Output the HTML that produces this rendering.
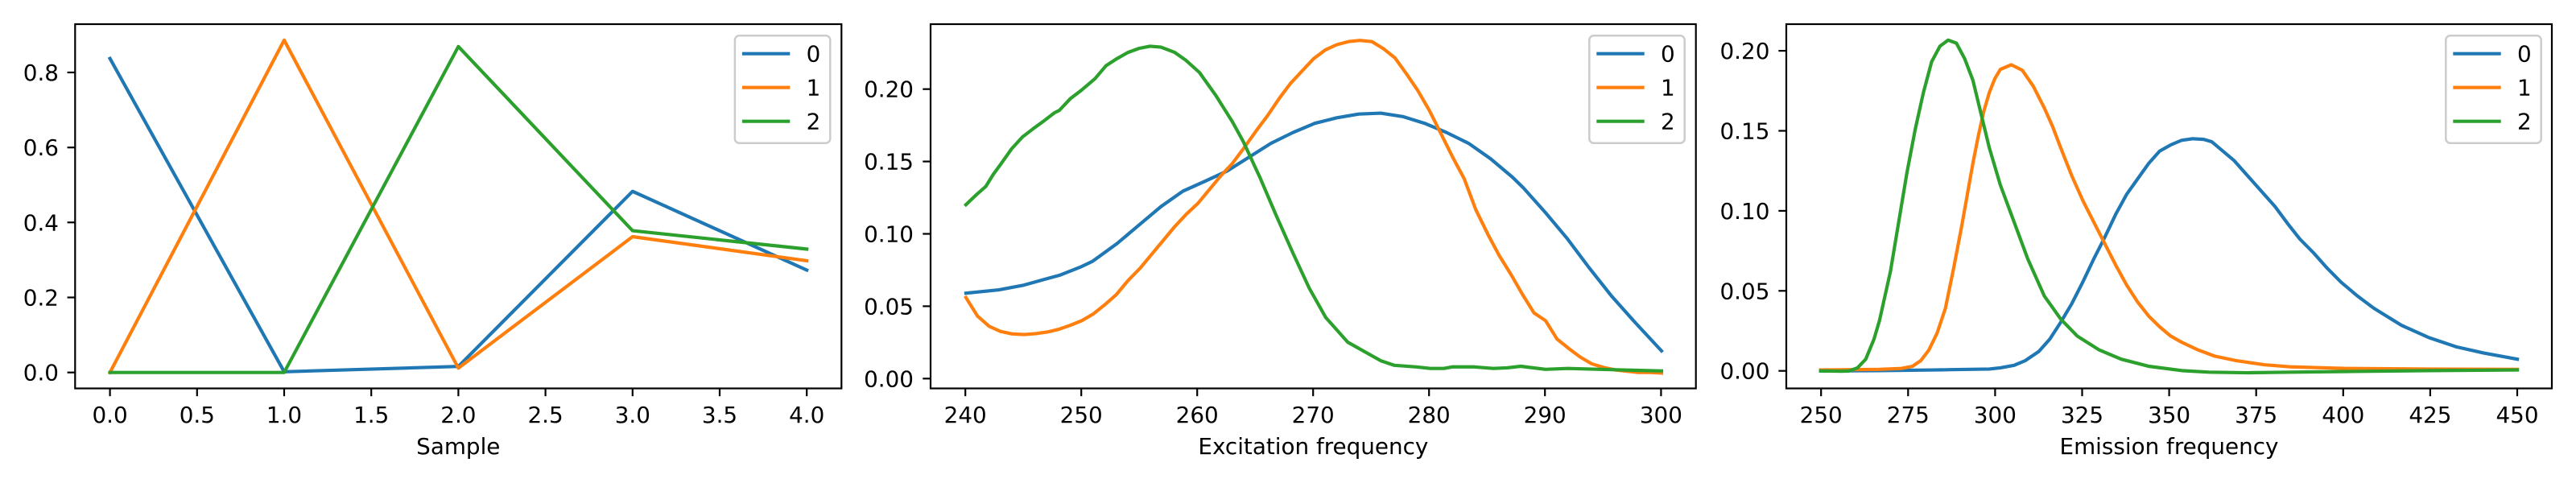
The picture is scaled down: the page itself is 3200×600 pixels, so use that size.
<!DOCTYPE html>
<html>
<head>
<meta charset="utf-8">
<style>
html,body{margin:0;padding:0;background:#fff;}
svg{display:block;}
text{font-family:"DejaVu Sans","Liberation Sans",sans-serif;font-size:27.8px;fill:#000;}
.ln{fill:none;stroke-width:4.17;stroke-linejoin:round;stroke-linecap:square;}
.nss{vector-effect:non-scaling-stroke;}
.b{stroke:#1f77b4;}
.o{stroke:#ff7f0e;}
.g{stroke:#2ca02c;}
.sp{fill:none;stroke:#000;stroke-width:2.2;stroke-linejoin:miter;}
.tk{stroke:#000;stroke-width:2.2;}
.lg{fill:#fff;fill-opacity:0.8;stroke:#cccccc;stroke-width:2.5;}
</style>
</head>
<body>
<svg width="3200" height="600" viewBox="0 0 3200 600" xmlns="http://www.w3.org/2000/svg">
<rect x="0" y="0" width="3200" height="600" fill="#fff"/>

<!-- ================= PANEL 1 ================= -->
<g>
  <polyline class="ln b" points="136.6,72.7 353,461.8 569.4,455.2 785.8,237.7 1002.2,335.5"/>
  <polyline class="ln o" points="136.6,462.7 353,49.9 569.4,457.3 785.8,294.0 1002.2,323.9"/>
  <polyline class="ln g" points="136.6,462.7 353,462.7 569.4,57.8 785.8,286.6 1002.2,309.4"/>
  <rect class="sp" x="93.3" y="30" width="952" height="452.5"/>
  <!-- y ticks -->
  <g class="tk">
    <line x1="83.6" y1="462.7" x2="93.3" y2="462.7"/>
    <line x1="83.6" y1="369.5" x2="93.3" y2="369.5"/>
    <line x1="83.6" y1="276.3" x2="93.3" y2="276.3"/>
    <line x1="83.6" y1="183.2" x2="93.3" y2="183.2"/>
    <line x1="83.6" y1="90" x2="93.3" y2="90"/>
  </g>
  <g text-anchor="end">
    <text x="73" y="472.7">0.0</text>
    <text x="73" y="379.5">0.2</text>
    <text x="73" y="286.3">0.4</text>
    <text x="73" y="193.2">0.6</text>
    <text x="73" y="100">0.8</text>
  </g>
  <!-- x ticks -->
  <g class="tk">
    <line x1="136.6" y1="482.5" x2="136.6" y2="492.2"/>
    <line x1="244.8" y1="482.5" x2="244.8" y2="492.2"/>
    <line x1="353" y1="482.5" x2="353" y2="492.2"/>
    <line x1="461.2" y1="482.5" x2="461.2" y2="492.2"/>
    <line x1="569.4" y1="482.5" x2="569.4" y2="492.2"/>
    <line x1="677.6" y1="482.5" x2="677.6" y2="492.2"/>
    <line x1="785.8" y1="482.5" x2="785.8" y2="492.2"/>
    <line x1="894" y1="482.5" x2="894" y2="492.2"/>
    <line x1="1002.2" y1="482.5" x2="1002.2" y2="492.2"/>
  </g>
  <g text-anchor="middle">
    <text x="136.6" y="525">0.0</text>
    <text x="244.8" y="525">0.5</text>
    <text x="353" y="525">1.0</text>
    <text x="461.2" y="525">1.5</text>
    <text x="569.4" y="525">2.0</text>
    <text x="677.6" y="525">2.5</text>
    <text x="785.8" y="525">3.0</text>
    <text x="894" y="525">3.5</text>
    <text x="1002.2" y="525">4.0</text>
    <text x="569.3" y="564">Sample</text>
  </g>
  <!-- legend -->
  <rect class="lg" x="912.9" y="44.3" width="118.4" height="133.4" rx="5.5" ry="5.5"/>
  <line class="ln b" style="stroke-linecap:butt" x1="921.9" y1="66.7" x2="981.3" y2="66.7"/>
  <line class="ln o" style="stroke-linecap:butt" x1="921.9" y1="108.7" x2="981.3" y2="108.7"/>
  <line class="ln g" style="stroke-linecap:butt" x1="921.9" y1="150.7" x2="981.3" y2="150.7"/>
  <text x="1001.6" y="76.7">0</text>
  <text x="1001.6" y="118.7">1</text>
  <text x="1001.6" y="160.7">2</text>
</g>

<!-- ================= PANEL 2 ================= -->
<g>
  <g transform="translate(1060,0) scale(0.6825,0.383)">
    <polyline class="ln nss b" points="205,951 265,940 310,925 350,905 375,893 415,865 435,848 480,790 520,730 560,670 600,620 640,588 680,555 720,510 760,465 800,430 840,400 880,382 920,370 960,367 1000,378 1040,400 1080,430 1120,465 1160,515 1200,575 1220,610 1260,690 1300,775 1340,870 1380,960 1420,1040 1471,1138"/>
    <polyline class="ln nss o" points="205,965 226,1025 247,1058 268,1075 289,1083 311,1085 332,1082 353,1077 374,1068 395,1055 416,1040 437,1018 458,988 479,955 500,910 522,870 543,825 564,780 585,735 606,695 627,660 648,615 669,570 690,530 711,480 733,425 754,375 775,320 796,270 817,230 838,190 859,162 880,145 901,135 922,131 944,135 965,158 986,188 1007,240 1028,295 1049,360 1070,435 1091,510 1112,580 1133,680 1155,760 1176,830 1197,890 1218,955 1239,1015 1260,1040 1281,1100 1302,1130 1323,1158 1344,1180 1366,1192 1387,1200 1408,1204 1429,1208 1450,1208 1471,1210"/>
    <polyline class="ln nss g" points="205,664 225,630 241,605 255,565 269,531 288,483 308,444 327,418 347,392 366,366 375,358 395,320 415,293 440,255 460,213 480,190 500,170 520,157 540,150 560,153 585,170 605,195 630,235 660,310 690,395 710,460 740,575 770,700 800,820 830,935 860,1030 900,1110 940,1150 960,1170 985,1185 1025,1190 1050,1195 1075,1195 1090,1190 1130,1190 1165,1195 1190,1193 1215,1188 1260,1198 1300,1195 1400,1200 1471,1203"/>
  </g>
  <rect class="sp" x="1156" y="30" width="950.7" height="452.5"/>
  <g class="tk">
    <line x1="1146.3" y1="470.3" x2="1156" y2="470.3"/>
    <line x1="1146.3" y1="380.4" x2="1156" y2="380.4"/>
    <line x1="1146.3" y1="290.5" x2="1156" y2="290.5"/>
    <line x1="1146.3" y1="200.6" x2="1156" y2="200.6"/>
    <line x1="1146.3" y1="110.7" x2="1156" y2="110.7"/>
  </g>
  <g text-anchor="end">
    <text x="1135" y="480.3">0.00</text>
    <text x="1135" y="390.4">0.05</text>
    <text x="1135" y="300.5">0.10</text>
    <text x="1135" y="210.6">0.15</text>
    <text x="1135" y="120.7">0.20</text>
  </g>
  <g class="tk">
    <line x1="1199.2" y1="482.5" x2="1199.2" y2="492.2"/>
    <line x1="1343.2" y1="482.5" x2="1343.2" y2="492.2"/>
    <line x1="1487.2" y1="482.5" x2="1487.2" y2="492.2"/>
    <line x1="1631.2" y1="482.5" x2="1631.2" y2="492.2"/>
    <line x1="1775.2" y1="482.5" x2="1775.2" y2="492.2"/>
    <line x1="1919.2" y1="482.5" x2="1919.2" y2="492.2"/>
    <line x1="2063.4" y1="482.5" x2="2063.4" y2="492.2"/>
  </g>
  <g text-anchor="middle">
    <text x="1199.2" y="525">240</text>
    <text x="1343.2" y="525">250</text>
    <text x="1487.2" y="525">260</text>
    <text x="1631.2" y="525">270</text>
    <text x="1775.2" y="525">280</text>
    <text x="1919.2" y="525">290</text>
    <text x="2063.4" y="525">300</text>
    <text x="1631.4" y="564">Excitation frequency</text>
  </g>
  <rect class="lg" x="1974.3" y="44.3" width="118.4" height="133.4" rx="5.5" ry="5.5"/>
  <line class="ln b" style="stroke-linecap:butt" x1="1983.3" y1="66.7" x2="2042.7" y2="66.7"/>
  <line class="ln o" style="stroke-linecap:butt" x1="1983.3" y1="108.7" x2="2042.7" y2="108.7"/>
  <line class="ln g" style="stroke-linecap:butt" x1="1983.3" y1="150.7" x2="2042.7" y2="150.7"/>
  <text x="2063" y="76.7">0</text>
  <text x="2063" y="118.7">1</text>
  <text x="2063" y="160.7">2</text>
</g>

<!-- ================= PANEL 3 ================= -->
<g>
  <g transform="translate(2130,0) scale(0.6825,0.383)">
    <polyline class="ln nss b" points="193,1203 300,1202 400,1200 430,1199 500,1197 520,1193 545,1185 565,1170 590,1140 610,1100 630,1045 650,985 670,915 690,840 710,770 730,695 750,630 770,580 790,530 810,490 830,470 850,455 870,450 890,452 905,460 925,490 945,520 970,570 990,610 1020,670 1045,730 1065,775 1090,820 1115,870 1140,915 1170,960 1200,1000 1250,1055 1300,1095 1350,1125 1400,1145 1461,1165"/>
    <polyline class="ln nss o" points="193,1200 250,1199 300,1198 340,1195 360,1188 375,1170 390,1135 405,1080 420,1000 435,870 450,730 460,630 470,530 480,440 490,360 500,300 510,255 520,225 540,210 560,228 580,280 600,350 615,410 630,480 650,570 670,650 690,720 710,790 730,860 750,925 770,980 790,1025 810,1060 830,1090 850,1110 880,1135 910,1155 950,1170 1000,1183 1050,1190 1150,1195 1300,1197 1461,1198"/>
    <polyline class="ln nss g" points="193,1203 230,1204 245,1203 260,1193 275,1165 290,1100 300,1040 310,960 320,880 335,720 350,560 365,420 380,300 395,200 410,150 425,130 440,140 455,190 470,260 485,370 500,480 520,600 545,720 570,840 600,960 630,1035 660,1090 700,1135 740,1165 790,1188 850,1202 900,1207 970,1209 1050,1207 1150,1205 1300,1202 1461,1200"/>
  </g>
  <rect class="sp" x="2219" y="30" width="951" height="452.5"/>
  <g class="tk">
    <line x1="2209.3" y1="460.7" x2="2219" y2="460.7"/>
    <line x1="2209.3" y1="361.3" x2="2219" y2="361.3"/>
    <line x1="2209.3" y1="261.9" x2="2219" y2="261.9"/>
    <line x1="2209.3" y1="162.5" x2="2219" y2="162.5"/>
    <line x1="2209.3" y1="63.1" x2="2219" y2="63.1"/>
  </g>
  <g text-anchor="end">
    <text x="2198.4" y="470.7">0.00</text>
    <text x="2198.4" y="371.3">0.05</text>
    <text x="2198.4" y="271.9">0.10</text>
    <text x="2198.4" y="172.5">0.15</text>
    <text x="2198.4" y="73.1">0.20</text>
  </g>
  <g class="tk">
    <line x1="2262.2" y1="482.5" x2="2262.2" y2="492.2"/>
    <line x1="2370.3" y1="482.5" x2="2370.3" y2="492.2"/>
    <line x1="2478.4" y1="482.5" x2="2478.4" y2="492.2"/>
    <line x1="2586.5" y1="482.5" x2="2586.5" y2="492.2"/>
    <line x1="2694.6" y1="482.5" x2="2694.6" y2="492.2"/>
    <line x1="2802.7" y1="482.5" x2="2802.7" y2="492.2"/>
    <line x1="2910.8" y1="482.5" x2="2910.8" y2="492.2"/>
    <line x1="3018.9" y1="482.5" x2="3018.9" y2="492.2"/>
    <line x1="3127" y1="482.5" x2="3127" y2="492.2"/>
  </g>
  <g text-anchor="middle">
    <text x="2262.2" y="525">250</text>
    <text x="2370.3" y="525">275</text>
    <text x="2478.4" y="525">300</text>
    <text x="2586.5" y="525">325</text>
    <text x="2694.6" y="525">350</text>
    <text x="2802.7" y="525">375</text>
    <text x="2910.8" y="525">400</text>
    <text x="3018.9" y="525">425</text>
    <text x="3127" y="525">450</text>
    <text x="2694.5" y="564">Emission frequency</text>
  </g>
  <rect class="lg" x="3038.3" y="44.3" width="118.4" height="133.4" rx="5.5" ry="5.5"/>
  <line class="ln b" style="stroke-linecap:butt" x1="3047.3" y1="66.7" x2="3106.7" y2="66.7"/>
  <line class="ln o" style="stroke-linecap:butt" x1="3047.3" y1="108.7" x2="3106.7" y2="108.7"/>
  <line class="ln g" style="stroke-linecap:butt" x1="3047.3" y1="150.7" x2="3106.7" y2="150.7"/>
  <text x="3127" y="76.7">0</text>
  <text x="3127" y="118.7">1</text>
  <text x="3127" y="160.7">2</text>
</g>
</svg>
</body>
</html>
